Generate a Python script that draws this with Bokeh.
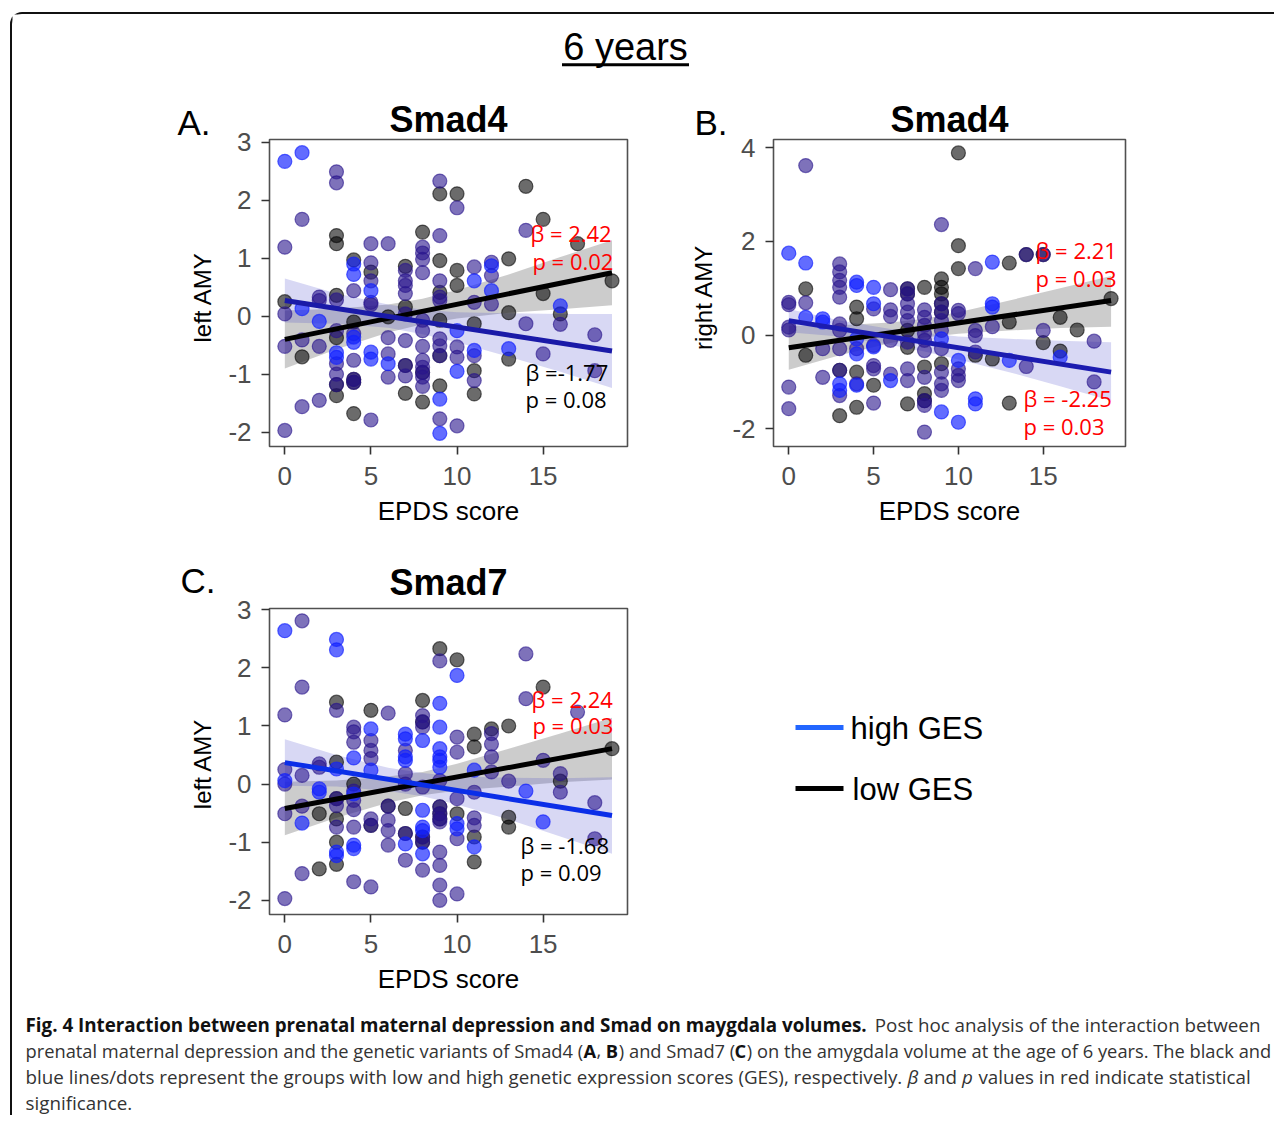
import math
from bokeh.plotting import figure
from bokeh.models import Range1d, FixedTicker, Label
from bokeh.layouts import column, row
from bokeh.embed import file_html
from bokeh.resources import INLINE

# ---------------- data ----------------
# points: EPDS score (x), volume z-score (y); "both" = points drawn in both groups
A_HIGH = [(0,2.67),(1,2.82),(1,0.13),(2,-0.09),(3,-0.63),(3,-0.71),(4,0.90),(4,0.72),(4,-0.36),(4,-0.45),
          (5,0.44),(5,-0.62),(5,-0.74),(6,-0.82),(9,-1.43),(9,-2.02),(10,-0.25),(10,-0.95),(11,0.61),
          (11,-0.59),(12,0.87),(12,0.44),(13,-0.56),(16,0.18)]
A_LOW = [(0,0.25),(1,-0.70),(3,1.39),(3,1.25),(3,0.36),(3,-0.37),(3,-1.37),(4,0.97),(4,-0.10),(4,-1.68),
         (5,0.76),(6,-0.01),(7,0.86),(7,0.16),(7,-1.33),(8,1.45),(8,-1.48),(9,2.11),(9,0.96),(9,0.41),
         (9,-0.07),(9,-1.20),(10,2.11),(10,0.79),(10,0.53),(11,-0.13),(11,-0.94),(11,-1.34),(13,0.99),
         (13,0.06),(13,-0.74),(14,2.24),(15,1.67),(15,0.39),(16,0.04),(17,1.25),(19,0.61)]
A_DARK = [(3,-1.18),(4,-1.09),(4,-1.14),(7,-0.85),(8,-0.97),(9,-0.68)]
A_BOTH = [(0,1.19),(0,0.04),(0,-0.52),(0,-1.97),(1,1.67),(1,-0.41),(1,-1.56),(2,0.33),(2,0.27),(2,-0.52),
          (2,-1.45),(3,2.49),(3,2.30),(3,0.28),(3,-0.25),(3,-0.82),(3,-1.0),(4,0.44),(4,-0.30),(4,-0.76),
          (5,1.25),(5,0.92),(5,0.61),(5,0.24),(5,0.20),(5,-1.79),(6,1.25),(6,-0.37),(6,-0.65),(6,-1.05),
          (7,0.79),(7,0.61),(7,0.53),(7,0.39),(7,0.04),(7,-0.42),(7,-1.03),(8,1.19),(8,1.09),(8,0.98),
          (8,0.75),(8,-0.07),(8,-0.25),(8,-0.52),(8,-0.76),(8,-0.88),(8,-1.05),(8,-1.21),(9,2.33),(9,1.39),
          (9,0.61),(9,0.33),(9,0.27),(9,-0.39),(9,-0.51),(9,-1.77),(10,1.87),(10,-0.53),(10,-0.71),
          (10,-1.89),(11,0.85),(11,0.24),(11,-0.68),(11,-1.11),(12,0.93),(12,0.70),(12,0.21),(14,1.48),
          (14,-0.13),(15,-0.65),(16,-0.14),(18,-0.32),(18,-0.94)]

B_HIGH = [(0,1.75),(1,1.54),(1,0.38),(2,0.35),(2,0.28),(3,-1.04),(3,-1.18),(4,1.13),(4,1.06),(4,-0.08),
          (4,-0.40),(4,-1.07),(5,1.02),(5,0.67),(5,-0.25),(6,-0.97),(9,-0.08),(9,-1.64),(10,-0.54),
          (10,-1.86),(11,-1.36),(11,-1.47),(12,1.56),(12,0.67),(12,0.60),(13,-0.54),(16,-0.47)]
B_LOW = [(1,0.99),(1,-0.43),(3,-1.72),(4,0.60),(4,0.35),(4,-0.79),(4,-1.54),(5,-1.07),(7,0.10),(7,-0.26),
         (7,-1.47),(8,1.02),(8,-0.68),(8,-1.25),(9,1.20),(9,1.02),(9,0.88),(9,-0.61),(10,3.89),(10,1.91),
         (10,1.42),(11,-0.43),(12,-0.51),(13,1.54),(13,0.28),(13,-1.45),(15,-0.16),(16,0.38),(16,-0.34),
         (17,0.11),(19,0.78)]
B_DARK = [(3,-0.75),(7,0.99),(7,0.88),(8,-1.40),(9,0.67),(9,0.49),(14,1.72),(15,1.72)]
B_BOTH = [(0,0.70),(0,0.65),(0,0.17),(0,0.11),(0,-1.11),(0,-1.57),(1,3.62),(1,0.69),(2,-0.29),(2,-0.90),
          (3,1.52),(3,1.35),(3,1.17),(3,1.02),(3,0.81),(3,0.24),(3,0.10),(3,-0.29),(3,-1.29),(4,-0.29),
          (4,-1.04),(5,0.56),(5,-0.22),(5,-0.65),(5,-0.72),(5,-1.45),(6,0.97),(6,0.54),(6,0.40),(6,-0.11),
          (6,-0.83),(7,0.67),(7,0.49),(7,0.31),(7,-0.15),(7,-0.72),(7,-0.97),(8,0.54),(8,0.38),(8,0.21),
          (8,0.03),(8,-0.11),(8,-0.33),(8,-0.90),(8,-1.50),(8,-2.07),(9,2.36),(9,0.31),(9,0.10),(9,-0.29),
          (9,-0.79),(9,-1.04),(9,-1.18),(10,0.53),(10,0.46),(10,-0.72),(10,-0.86),(10,-0.97),(11,1.42),
          (11,0.10),(11,-0.01),(11,-0.36),(12,0.18),(14,-0.67),(15,0.10),(18,-0.13),(18,-1.00)]

C_HIGH = [(0,2.64),(0,0.06),(1,-0.67),(2,-0.08),(2,-0.14),(3,2.49),(3,2.31),(3,0.26),(3,-1.17),(3,-1.23),
          (4,0.45),(4,-0.17),(4,-1.05),(4,-1.11),(5,0.95),(5,0.24),(7,0.86),(7,0.78),(7,0.47),(7,0.41),
          (7,-1.03),(8,0.75),(8,-0.45),(8,-0.74),(8,-0.80),(8,-1.20),(9,1.39),(9,0.98),(9,0.61),(9,0.47),
          (9,0.41),(9,0.29),(10,1.87),(10,-0.68),(10,-0.77),(11,0.24),(11,-1.08),(14,-0.12),(15,-0.65)]
C_LOW = [(2,-0.51),(2,-1.46),(3,1.41),(3,0.38),(3,-0.60),(3,-1.0),(3,-1.38),(4,-0.00),(5,1.27),(7,-0.42),
         (8,1.44),(9,2.33),(10,2.14),(10,-0.51),(11,0.86),(11,0.64),(11,-0.91),(11,-1.34),(12,0.95),
         (13,1.0),(13,-0.57),(13,-0.74),(15,1.67),(16,0.05),(19,0.61)]
C_DARK = [(3,-0.25),(5,-0.71),(6,-0.38),(7,-0.85),(8,1.07),(8,-0.91),(8,-1.00),(9,-0.39),(9,-0.51),(9,-0.60)]
C_BOTH = [(0,1.19),(0,0.25),(0,-0.00),(0,-0.51),(0,-1.97),(1,2.81),(1,1.67),(1,0.15),(1,-0.38),(1,-1.54),
          (2,0.35),(2,0.29),(3,1.27),(3,-0.37),(3,-0.74),(4,0.98),(4,0.90),(4,0.72),(4,-0.12),(4,-0.28),
          (4,-0.44),(4,-0.74),(4,-1.68),(5,0.75),(5,0.58),(5,0.44),(5,-0.60),(5,-1.77),(6,1.22),(6,-0.62),
          (6,-0.80),(6,-1.05),(7,0.58),(7,0.18),(7,-0.0),(7,-1.31),(8,1.18),(8,0.98),(8,-0.05),(8,-1.48),
          (9,2.12),(9,0.06),(9,-0.65),(9,-1.17),(9,-1.40),(9,-1.74),(9,-2.0),(10,0.81),(10,0.55),(10,-0.25),
          (10,-0.94),(10,-1.89),(11,-0.14),(11,-0.58),(11,-0.71),(12,0.87),(12,0.69),(12,0.47),(12,0.21),
          (13,0.05),(14,2.24),(14,1.47),(15,0.41),(16,0.18),(16,-0.14),(17,1.24),(18,-0.32),(18,-0.94)]

# regression lines (endpoints at EPDS 0 and 19) and confidence bands
FIT_X = [0, 19]
A_LOW_FIT, A_HIGH_FIT = [-0.40, 0.75], [0.27, -0.60]
B_LOW_FIT, B_HIGH_FIT = [-0.27, 0.74], [0.31, -0.79]
C_LOW_FIT, C_HIGH_FIT = [-0.42, 0.61], [0.37, -0.54]

BAND_X = [0, 3, 6, 8, 10, 13, 16, 19]
A_LOW_LO = [-0.90, -0.57, -0.28, -0.14, -0.04, 0.06, 0.12, 0.19]
A_LOW_HI = [0.10, 0.13, 0.20, 0.30, 0.45, 0.72, 1.02, 1.31]
A_HIGH_LO = [-0.11, -0.13, -0.20, -0.31, -0.45, -0.70, -0.96, -1.24]
A_HIGH_HI = [0.65, 0.39, 0.20, 0.11, 0.07, 0.05, 0.04, 0.04]
B_LOW_LO = [-0.74, -0.43, -0.17, -0.05, 0.03, 0.10, 0.15, 0.18]
B_LOW_HI = [0.20, 0.21, 0.27, 0.35, 0.49, 0.74, 1.00, 1.26]
B_HIGH_LO = [0.06, -0.03, -0.21, -0.35, -0.52, -0.79, -1.09, -1.40]
B_HIGH_HI = [0.56, 0.31, 0.13, 0.05, -0.03, -0.08, -0.12, -0.15]
C_LOW_LO = [-0.88, -0.58, -0.32, -0.19, -0.11, -0.04, 0.03, 0.08]
C_LOW_HI = [0.04, 0.06, 0.13, 0.21, 0.35, 0.61, 0.87, 1.14]
C_HIGH_LO = [-0.03, -0.04, -0.12, -0.21, -0.35, -0.61, -0.90, -1.20]
C_HIGH_HI = [0.77, 0.50, 0.28, 0.19, 0.13, 0.11, 0.10, 0.12]

X_TICKS = [0, 5, 10, 15]
A_Y_TICKS = [-2, -1, 0, 1, 2, 3]
B_Y_TICKS = [-2, 0, 2, 4]

A_STATS = [("β = 2.42", "red"), ("p = 0.02", "red"), ("β =-1.77", "black"), ("p = 0.08", "black")]
B_STATS = [("β = 2.21", "red"), ("p = 0.03", "red"), ("β = -2.25", "red"), ("p = 0.03", "red")]
C_STATS = [("β = 2.24", "red"), ("p = 0.03", "red"), ("β = -1.68", "black"), ("p = 0.09", "black")]

LEGEND_LABELS = ["high GES", "low GES"]
SUPER_TITLE = "6 years"

CAPTION_LINES = [
    [("Fig. 4 Interaction between prenatal maternal depression and Smad on maygdala volumes.", "bold"),
     (" Post hoc analysis of the interaction between", "normal")],
    [("prenatal maternal depression and the genetic variants of Smad4 (", "normal"), ("A", "bold"),
     (", ", "normal"), ("B", "bold"), (") and Smad7 (", "normal"), ("C", "bold"),
     (") on the amygdala volume at the age of 6 years. The black and", "normal")],
    [("blue lines/dots represent the groups with low and high genetic expression scores (GES), respectively. ", "normal"),
     ("β", "italic"), (" and ", "normal"), ("p", "italic"), (" values in red indicate statistical", "normal")],
    [("significance.", "normal")],
]

# ---------------- styling ----------------
HIGH_C, HIGH_A = "#1020ff", 0.66
LOW_C, LOW_A = "#000000", 0.58
BOTH_C, BOTH_A = "#28148c", 0.60
GRAY_BAND, BLUE_BAND = "#808080", "#3c3cc8"
AX_FONT = "Liberation Sans"

# approximate advance widths (em) of Open Sans, used only to lay out caption runs
W_REG = dict(zip("abcdefghijklmnopqrstuvwxyz",
                 [.556, .613, .476, .613, .561, .339, .548, .614, .253, .253, .525, .253, .930, .614,
                  .604, .613, .613, .408, .477, .353, .614, .501, .778, .524, .502, .462]))
W_REG.update({" ": .260, ".": .266, ",": .245, "(": .271, ")": .271, "/": .367, "A": .633, "B": .648,
              "C": .631, "G": .735, "E": .547, "S": .550, "F": .516, "I": .274, "P": .603, "T": .553,
              "β": .600})
for d in "0123456789":
    W_REG[d] = .572
W_BOLD = dict(zip("abcdefghijklmnopqrstuvwxyz",
                  [.599, .640, .512, .640, .593, .392, .562, .664, .300, .300, .620, .300, .989, .664,
                   .618, .640, .640, .454, .513, .421, .664, .564, .856, .589, .564, .490]))
W_BOLD.update({" ": .260, ".": .293, ",": .270, "A": .710, "B": .712, "C": .668, "F": .603, "I": .341,
               "S": .562})
for d in "0123456789":
    W_BOLD[d] = .572


def text_width(txt, style, size):
    tab = W_BOLD if style == "bold" else W_REG
    return sum(tab.get(ch, .56) for ch in txt) * size


def xs(pts):
    return [p[0] for p in pts]


def ys(pts):
    return [p[1] for p in pts]


def blank(width, height, xr, yr):
    f = figure(width=width, height=height, x_range=Range1d(*xr), y_range=Range1d(*yr),
               output_backend="svg", toolbar_location=None, x_axis_location=None,
               y_axis_location=None, min_border=0)
    f.xgrid.visible = False
    f.ygrid.visible = False
    f.outline_line_color = None
    return f


def panel(width, height, borders, xr, yr, yticks, high, low, dark, both,
          low_fit, high_fit, low_band, high_band, blue_line, stats, stat_pos, title, title_standoff):
    bl, br, bt, bb = borders
    p = figure(width=width, height=height, x_range=Range1d(*xr), y_range=Range1d(*yr),
               output_backend="svg", toolbar_location=None,
               min_border_left=bl, min_border_right=br, min_border_top=bt, min_border_bottom=bb)
    p.xgrid.visible = False
    p.ygrid.visible = False
    p.outline_line_color = "#505050"
    p.outline_line_width = 1.6
    for ax in (p.xaxis[0], p.yaxis[0]):
        ax.axis_line_color = None
        ax.major_tick_line_color = "#333333"
        ax.major_tick_line_width = 1.6
        ax.major_tick_out = 8
        ax.major_tick_in = 0
        ax.minor_tick_line_color = None
        ax.major_label_text_font = AX_FONT
        ax.major_label_text_font_size = "26px"
        ax.major_label_text_color = "#4d4d4d"
        ax.axis_label_text_font = AX_FONT
        ax.axis_label_text_font_style = "normal"
        ax.axis_label_text_color = "black"
    p.xaxis.ticker = FixedTicker(ticks=X_TICKS)
    p.yaxis.ticker = FixedTicker(ticks=yticks)
    p.yaxis.major_label_overrides = {t: str(t) for t in yticks if t < 0}
    p.xaxis.axis_label = "EPDS score"
    p.xaxis.axis_label_text_font_size = "26px"
    p.xaxis.major_label_standoff = 12
    p.xaxis.axis_label_standoff = 8
    p.yaxis.major_label_standoff = 10

    p.title.text = title
    p.title.align = "center"
    p.title.offset = 3
    p.title.text_font = AX_FONT
    p.title.text_font_size = "36px"
    p.title.text_font_style = "bold"
    p.title.text_color = "black"
    p.title.standoff = title_standoff

    # confidence bands
    p.varea(x=BAND_X, y1=low_band[0], y2=low_band[1], fill_color=GRAY_BAND, fill_alpha=0.4)
    p.varea(x=BAND_X, y1=high_band[0], y2=high_band[1], fill_color=BLUE_BAND, fill_alpha=0.2)

    # points
    kw = dict(size=14, marker="circle", line_width=1.2)
    p.scatter(xs(low + dark), ys(low + dark), fill_color=LOW_C, fill_alpha=LOW_A,
              line_color=LOW_C, line_alpha=LOW_A, **kw)
    p.scatter(xs(both + dark), ys(both + dark), fill_color=BOTH_C, fill_alpha=BOTH_A,
              line_color=BOTH_C, line_alpha=BOTH_A, **kw)
    p.scatter(xs(high), ys(high), fill_color=HIGH_C, fill_alpha=HIGH_A,
              line_color=HIGH_C, line_alpha=HIGH_A, **kw)

    # regression lines
    p.line(FIT_X, low_fit, line_color="black", line_width=5)
    p.line(FIT_X, high_fit, line_color=blue_line, line_width=5)

    for (txt, col), (sx, sy) in zip(stats, stat_pos):
        p.add_layout(Label(x=sx, y=sy, text=txt, text_color=col, text_font="Open Sans",
                           text_font_size="22px", text_baseline="middle", text_align="left"))
    return p


def side(width, height, xr, yr, letter, letter_offset, letter_standoff, ylabel, ylabel_xy):
    # frame of this figure is aligned with the neighbouring panel's frame (page pixel coordinates)
    f = blank(width, height, xr, yr)
    f.title.text = letter
    f.title.align = "left"
    f.title.offset = letter_offset
    f.title.standoff = letter_standoff
    f.title.text_font = AX_FONT
    f.title.text_font_size = "35px"
    f.title.text_font_style = "normal"
    f.title.text_color = "black"
    f.add_layout(Label(x=ylabel_xy[0], y=ylabel_xy[1], text=ylabel, text_font=AX_FONT,
                       text_font_size="24px", text_baseline="middle", text_align="center",
                       angle=math.pi / 2, text_color="black"))
    return f


pA = panel(438, 460, (47, 33, 49, 104), (-0.89, 19.90), (-2.247, 3.047), A_Y_TICKS,
           A_HIGH, A_LOW, A_DARK, A_BOTH, A_LOW_FIT, A_HIGH_FIT, (A_LOW_LO, A_LOW_HI),
           (A_HIGH_LO, A_HIGH_HI), "#1a1aa8", A_STATS,
           [(14.26, 1.43), (14.38, 0.96), (13.98, -0.97), (13.98, -1.42)], "Smad4", 0)
pB = panel(546, 460, (45, 149, 49, 104), (-0.90, 19.85), (-2.378, 4.177), B_Y_TICKS,
           B_HIGH, B_LOW, B_DARK, B_BOTH, B_LOW_FIT, B_HIGH_FIT, (B_LOW_LO, B_LOW_HI),
           (B_HIGH_LO, B_HIGH_HI), "#1c1cb0", B_STATS,
           [(14.55, 1.81), (14.55, 1.21), (13.84, -1.35), (13.84, -1.95)], "Smad4", 0)
pC = panel(438, 450, (47, 33, 58, 86), (-0.89, 19.90), (-2.244, 3.022), A_Y_TICKS,
           C_HIGH, C_LOW, C_DARK, C_BOTH, C_LOW_FIT, C_HIGH_FIT, (C_LOW_LO, C_LOW_HI),
           (C_HIGH_LO, C_HIGH_HI), "#0b2ee8", C_STATS,
           [(14.33, 1.47), (14.38, 1.01), (13.69, -1.04), (13.69, -1.52)], "Smad7", 11)

sA = side(210, 460, (12, 222), (446, 139), "A.", 165, -4, "left AMY", (201.7, 296.7))
sB = side(68, 460, (660, 728), (446, 139), "B.", 34, -4, "right AMY", (702.5, 296.7))
sC = side(210, 450, (12, 222), (914, 608), "C.", 168, 17, "left AMY", (201.7, 763.3))

header = blank(1262, 76, (12, 1274), (90, 14))
header.add_layout(Label(x=625, y=46.2, text=SUPER_TITLE, text_font=AX_FONT, text_font_size="38px",
                        text_align="center", text_baseline="middle", text_color="black"))
header.line([561.5, 688.5], [64.3, 64.3], line_color="black", line_width=3)

leg = blank(614, 450, (660, 1274), (914, 608))
leg.line([795, 843], [727, 727], line_color="#2266ff", line_width=5)
leg.line([795, 843], [788, 788], line_color="black", line_width=5)
leg.add_layout(Label(x=850, y=728, text=LEGEND_LABELS[0], text_font=AX_FONT, text_font_size="31px",
                     text_baseline="middle", text_color="black"))
leg.add_layout(Label(x=852, y=789, text=LEGEND_LABELS[1], text_font=AX_FONT, text_font_size="31px",
                     text_baseline="middle", text_color="black"))

cap = blank(1262, 115, (12, 1274), (1115, 1000))
CAP_SIZES = [18.8, 18.3, 18.8, 18.8]
LINE_Y = [1024, 1050, 1076, 1102]
for li, runs in enumerate(CAPTION_LINES):
    size = CAP_SIZES[li]
    x0 = 25.0
    for txt, style in runs:
        core = txt.strip(" ")
        lead = len(txt) - len(txt.lstrip(" "))
        trail = len(txt) - len(txt.rstrip(" "))
        x0 += lead * W_REG[" "] * size
        cap.add_layout(Label(x=x0, y=LINE_Y[li], text=core, text_font="Open Sans",
                             text_font_size=f"{size}px", text_font_style=style,
                             text_baseline="middle", text_align="left",
                             text_color="#111111" if style == "bold" else "#333333"))
        x0 += text_width(core, style, size) + trail * W_REG[" "] * size

layout = column(header, row(sA, pA, sB, pB), row(sC, pC, leg), cap,
                styles={"border-left": "2px solid #111", "border-top": "2px solid #111",
                        "border-top-left-radius": "12px", "margin-left": "10px", "margin-top": "12px"})

open("out.html", "w").write(file_html(layout, INLINE))
